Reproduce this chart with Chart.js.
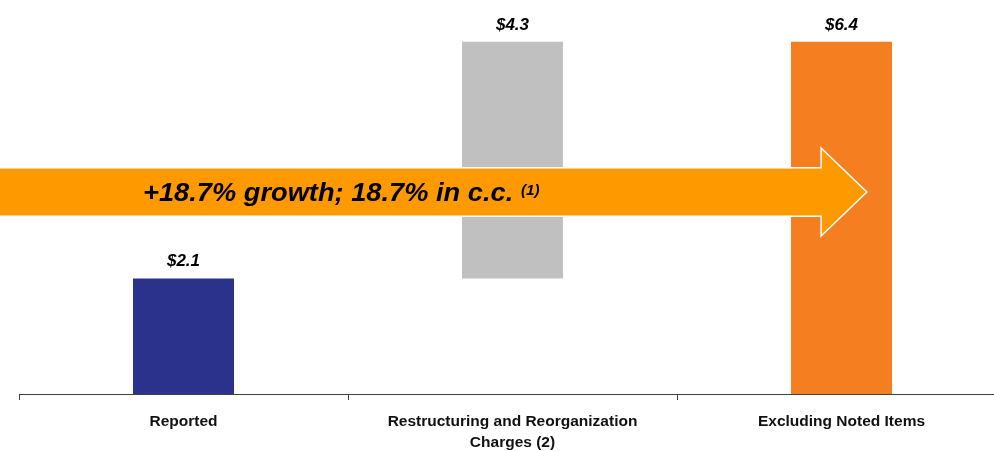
<!DOCTYPE html>
<html>
<head>
<meta charset="utf-8">
<script src="https://cdn.jsdelivr.net/npm/chart.js@4.4.1/dist/chart.umd.min.js"></script>
<style>
  html, body { margin: 0; padding: 0; background: #ffffff; }
  #wrap { width: 994px; height: 451px; position: relative; }
</style>
</head>
<body>
<div id="wrap"><canvas id="c" width="994" height="451"></canvas></div>
<script>
// ---- data ----
const categories = ['Reported', ['Restructuring and Reorganization', 'Charges (2)'], 'Excluding Noted Items'];
const barStart = [0, 2.1, 0];
const barEnd = [2.1, 6.4, 6.4];
const valueLabels = ['$2.1', '$4.3', '$6.4'];
const barColors = ['#2B328B', '#C0C0C0', '#F47E20'];
const arrowText = '+18.7% growth; 18.7% in c.c.';
const arrowNote = '(1)';

const FONT = '"Liberation Sans", Arial, sans-serif';

// extend the category axis slightly past the right canvas edge (as in the reference)
const extendPlugin = {
  id: 'extendX',
  afterLayout(chart) {
    const xs = chart.scales.x;
    const extra = 12;
    xs.right += extra;
    xs.width += extra;
    chart.chartArea.right += extra;
    chart.chartArea.width += extra;
    xs.configure();
  }
};

const valueLabelPlugin = {
  id: 'valueLabels',
  afterDatasetsDraw(chart) {
    const ctx = chart.ctx;
    const meta = chart.getDatasetMeta(0);
    ctx.save();
    ctx.font = 'italic bold 17px ' + FONT;
    ctx.fillStyle = '#000';
    ctx.textAlign = 'center';
    ctx.textBaseline = 'alphabetic';
    meta.data.forEach((bar, i) => {
      ctx.fillText(valueLabels[i], bar.x, bar.y - 12);
    });
    ctx.restore();
  }
};

const arrowPlugin = {
  id: 'growthArrow',
  afterDatasetsDraw(chart) {
    const ctx = chart.ctx;
    const xs = chart.scales.x, ys = chart.scales.y;
    const yc = ys.getPixelForValue(3.67);
    const bodyHalf = ys.getPixelForValue(3.67 - 0.44) - yc;
    const headHalf = ys.getPixelForValue(3.67 - 0.80) - yc;
    const step = xs.getPixelForValue(1) - xs.getPixelForValue(0);
    const headStart = xs.getPixelForValue(2) - 0.062 * step;
    const tip = xs.getPixelForValue(2) + 0.077 * step;
    ctx.save();
    ctx.beginPath();
    ctx.moveTo(-5, yc - bodyHalf);
    ctx.lineTo(headStart, yc - bodyHalf);
    ctx.lineTo(headStart, yc - headHalf);
    ctx.lineTo(tip, yc);
    ctx.lineTo(headStart, yc + headHalf);
    ctx.lineTo(headStart, yc + bodyHalf);
    ctx.lineTo(-5, yc + bodyHalf);
    ctx.closePath();
    ctx.fillStyle = '#FE9A00';
    ctx.fill();
    ctx.strokeStyle = '#ffffff';
    ctx.lineWidth = 1.5;
    ctx.stroke();

    // caption (slightly stretched horizontally as in the reference)
    const sx = 1.09;
    const tx = 143, ty = yc + 9;
    ctx.fillStyle = '#000';
    ctx.textBaseline = 'alphabetic';
    ctx.textAlign = 'left';
    ctx.translate(tx, ty);
    ctx.scale(sx, 1);
    ctx.font = 'italic bold 25px ' + FONT;
    ctx.fillText(arrowText, 0, 0);
    const w = ctx.measureText(arrowText).width + 7;
    ctx.font = 'italic bold 14px ' + FONT;
    ctx.fillText(arrowNote, w, -6);
    ctx.restore();
  }
};

new Chart(document.getElementById('c'), {
  type: 'bar',
  data: {
    labels: categories,
    datasets: [{
      data: barStart.map((s, i) => [s, barEnd[i]]),
      backgroundColor: barColors,
      borderWidth: 0,
      categoryPercentage: 1,
      barPercentage: 0.307
    }]
  },
  options: {
    responsive: false,
    animation: false,
    layout: { padding: { left: 19, right: 0, top: 0, bottom: 0 } },
    plugins: { legend: { display: false }, tooltip: { enabled: false } },
    scales: {
      y: {
        display: false,
        min: 0,
        max: 7.16
      },
      x: {
        offset: true,
        grid: {
          offset: true,
          drawOnChartArea: false,
          drawTicks: true,
          tickLength: 6,
          color: '#404040',
          lineWidth: 1
        },
        border: { display: true, color: '#404040', width: 1 },
        ticks: {
          color: '#111',
          font: { family: FONT, size: 15.5, weight: 'bold', lineHeight: '21px' },
          padding: 11,
          maxRotation: 0,
          autoSkip: false
        },
        afterFit(scale) { scale.height = 57; }
      }
    }
  },
  plugins: [extendPlugin, arrowPlugin, valueLabelPlugin]
});
</script>
</body>
</html>
